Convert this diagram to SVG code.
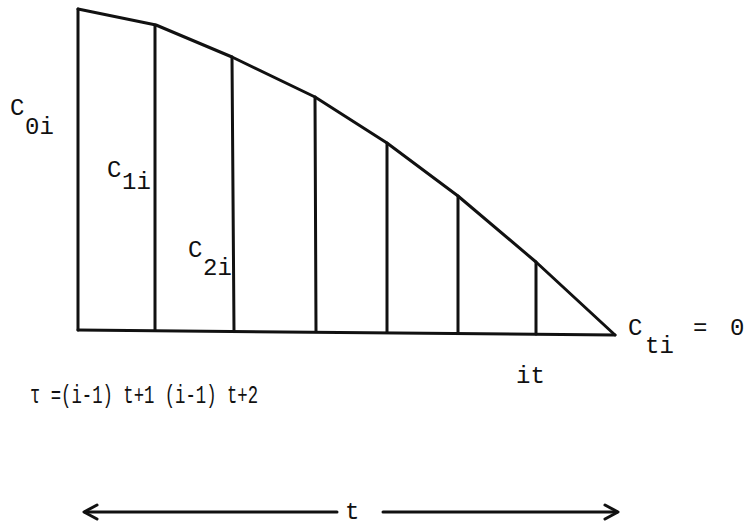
<svg xmlns="http://www.w3.org/2000/svg" width="746" height="532" viewBox="0 0 746 532">
<style>
.ln{stroke:#111;stroke-width:3;fill:none;stroke-linecap:round;stroke-linejoin:round}
.tx{font-family:"Liberation Mono","DejaVu Sans Mono",monospace;font-size:24px;fill:#111}
.tau{font-size:26px}
</style>
<rect width="746" height="532" fill="#fff"/>
<g id="curve">
<polyline class="ln" points="78,9 156,25 232,57 315,97 387,143 458,196 536,262 615,335"/>
</g>
<g id="axes">
<line class="ln" x1="78" y1="9" x2="78" y2="330"/>
<line class="ln" x1="78" y1="330" x2="615" y2="335"/>
</g>
<g id="ordinates">
<line class="ln" x1="155" y1="25" x2="155" y2="330"/>
<line class="ln" x1="232" y1="57" x2="234" y2="331"/>
<line class="ln" x1="315" y1="97" x2="316" y2="331"/>
<line class="ln" x1="387" y1="143" x2="387" y2="332"/>
<line class="ln" x1="458" y1="196" x2="458" y2="333"/>
<line class="ln" x1="536" y1="262" x2="536" y2="334"/>
</g>
<g id="labels">
<text class="tx" x="10" y="115">C</text><text class="tx" x="25" y="134">0i</text>
<text class="tx" x="107" y="177">C</text><text class="tx" x="122" y="189">1i</text>
<text class="tx" x="188" y="257">C</text><text class="tx" x="203" y="275">2i</text>
<text class="tx" x="628" y="335">C</text><text class="tx" x="645" y="353">ti</text>
<text class="tx" x="693" y="335">=</text><text class="tx" x="730" y="335">0</text>
<text class="tx" x="516" y="383">it</text>
<text class="tx tau" x="30" y="403" textLength="228" lengthAdjust="spacingAndGlyphs">τ =(i-1) t+1  (i-1) t+2</text>
<text class="tx" x="345" y="519">t</text>
</g>
<g id="connectors">
<line class="ln" x1="85" y1="512" x2="337" y2="512"/>
<line class="ln" x1="383" y1="512" x2="617" y2="512"/>
<polyline class="ln" points="97,505 84,512 97,519"/>
<polyline class="ln" points="605,505 618,512 605,519"/>
</g>
</svg>
